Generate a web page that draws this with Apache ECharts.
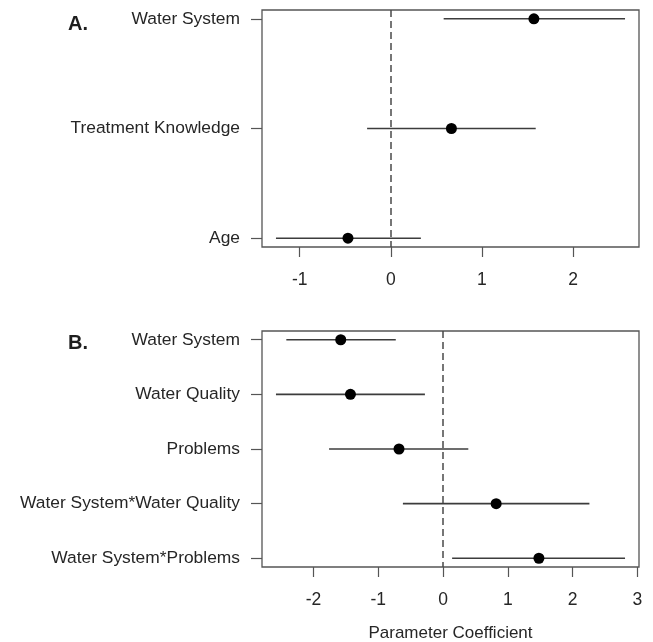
<!DOCTYPE html>
<html lang="en">
<head>
  <meta charset="UTF-8">
  <title>Parameter coefficients</title>
  <style>
    html, body { margin: 0; height: 100%; width: 100%; background: #fff; }
  </style>
</head>
<body>
  <div id="chart" style="width:653px;height:642px"></div>
  <script src="https://cdn.jsdelivr.net/npm/echarts@6/dist/echarts.min.js"></script>
  <script>
    // panel A
    const catsA = ['Water System', 'Treatment Knowledge', 'Age']
    const estA = [1.57, 0.665, -0.47]
    const lowA = [0.58, -0.26, -1.26]
    const highA = [2.57, 1.59, 0.33]
    const ticksA = [-1, 0, 1, 2]

    // panel B
    const catsB = ['Water System', 'Water Quality', 'Problems', 'Water System*Water Quality', 'Water System*Problems']
    const estB = [-1.58, -1.43, -0.68, 0.82, 1.48]
    const lowB = [-2.42, -2.58, -1.76, -0.62, 0.14]
    const highB = [-0.73, -0.28, 0.39, 2.26, 2.81]
    const ticksB = [-2, -1, 0, 1, 2, 3]

    const textColor = '#262626'
    const lineColor = '#3c3c3c'
    const font = 'Liberation Sans, Arial, sans-serif'

    // R style axis limits: data range padded by 4%
    function padded(lo, hi) {
      const p = 0.04 * (hi - lo)
      return [lo - p, hi + p]
    }

    function makeX(idx, low, high, ticks, withName) {
      const r = padded(Math.min(...low), Math.max(...high))
      const ax = {
        type: 'value',
        gridIndex: idx,
        min: r[0],
        max: r[1],
        axisLine: { show: false, onZero: false },
        splitLine: { show: false },
        axisTick: { show: true, length: 10, customValues: ticks, lineStyle: { color: '#555', width: 1.2 } },
        axisLabel: { customValues: ticks, margin: 24, fontSize: 17.5, color: textColor, fontFamily: font }
      }
      if (withName) {
        ax.name = 'Parameter Coefficient'
        ax.nameLocation = 'middle'
        ax.nameGap = 58
        ax.nameTextStyle = { fontSize: 17, color: textColor, fontFamily: font }
      }
      return ax
    }

    function makeY(idx, cats) {
      const n = cats.length
      const r = padded(1, n)
      const vals = cats.map((c, i) => i + 1)
      return {
        type: 'value',
        gridIndex: idx,
        inverse: true,
        min: r[0],
        max: r[1],
        axisLine: { show: false, onZero: false },
        splitLine: { show: false },
        axisTick: { show: true, length: 11, customValues: vals, lineStyle: { color: '#555', width: 1.2 } },
        axisLabel: {
          customValues: vals,
          margin: 22,
          fontSize: 17.4,
          color: textColor,
          fontFamily: font,
          formatter: function (v) { return cats[Math.round(v) - 1] }
        }
      }
    }

    function barData(low, high) {
      return low.map((l, i) => [l, high[i], i + 1])
    }

    function pointData(est) {
      return est.map((e, i) => [e, i + 1])
    }

    function bars(idx, low, high) {
      return {
        type: 'custom',
        xAxisIndex: idx,
        yAxisIndex: idx,
        encode: { x: [0, 1], y: 2 },
        renderItem: function (params, api) {
          const a = api.coord([api.value(0), api.value(2)])
          const b = api.coord([api.value(1), api.value(2)])
          return {
            type: 'line',
            shape: { x1: a[0], y1: a[1], x2: b[0], y2: b[1] },
            style: { stroke: lineColor, lineWidth: 1.6 }
          }
        },
        data: barData(low, high),
        z: 2
      }
    }

    function points(idx, est) {
      return {
        type: 'scatter',
        xAxisIndex: idx,
        yAxisIndex: idx,
        symbolSize: 11,
        itemStyle: { color: '#000', opacity: 1 },
        data: pointData(est),
        z: 3,
        markLine: {
          silent: true,
          symbol: ['none', 'none'],
          label: { show: false },
          lineStyle: { color: '#4a4a4a', type: [7, 4], width: 1.5 },
          data: [{ xAxis: 0 }]
        }
      }
    }

    const option = {
      animation: false,
      backgroundColor: '#fff',
      title: [
        { text: 'A.', left: 63, top: 9, textStyle: { fontSize: 20, fontWeight: 'bold', color: '#1e1e1e', fontFamily: font } },
        { text: 'B.', left: 63, top: 328, textStyle: { fontSize: 20, fontWeight: 'bold', color: '#1e1e1e', fontFamily: font } }
      ],
      grid: [
        { left: 262, top: 10, width: 377, height: 237, outerBoundsMode: 'none', show: true, borderColor: '#555', borderWidth: 1.3 },
        { left: 262, top: 331, width: 377, height: 236, outerBoundsMode: 'none', show: true, borderColor: '#555', borderWidth: 1.3 }
      ],
      xAxis: [
        makeX(0, lowA, highA, ticksA, false),
        makeX(1, lowB, highB, ticksB, true)
      ],
      yAxis: [
        makeY(0, catsA),
        makeY(1, catsB)
      ],
      series: [
        bars(0, lowA, highA),
        points(0, estA),
        bars(1, lowB, highB),
        points(1, estB)
      ]
    }

    const myChart = echarts.init(document.getElementById('chart'))
    myChart.setOption(option)
  </script>
</body>
</html>
